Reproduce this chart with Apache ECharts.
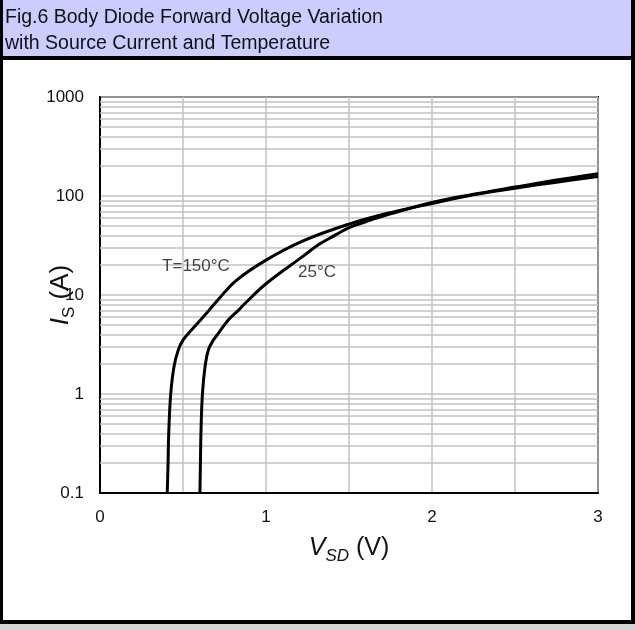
<!DOCTYPE html>
<html style="height: 100%">
   <head>
       <meta charset="utf-8">
   </head>
   <body style="height: 100%; margin: 0">
       <div id="container" style="width: 635px; height: 630px"></div>
       <script type="text/javascript" src="https://cdn.jsdelivr.net/npm/echarts@6/dist/echarts.min.js"></script>
       <script type="text/javascript">
// Is vs Vsd
var v150 = [0.405, 0.41, 0.414, 0.426, 0.446, 0.472, 0.50, 0.57, 0.64, 0.71, 0.82, 1.0, 1.22, 1.5, 1.75, 2.0, 2.25, 2.5, 2.75, 3.0];
var i150 = [0.1, 0.2, 0.4, 1.0, 1.9, 2.8, 3.5, 4.8, 6.5, 8.9, 14, 22.5, 35, 52, 68, 84, 103, 120, 138, 157];
var v25 = [0.602, 0.605, 0.608, 0.617, 0.633, 0.653, 0.683, 0.713, 0.773, 0.833, 0.873, 1.0, 1.22, 1.32, 1.42, 1.5, 1.6, 1.75, 2.0, 2.25, 2.5, 2.75, 3.0];
var i25 = [0.1, 0.2, 0.4, 1.0, 1.9, 2.8, 3.5, 4.1, 5.6, 7.0, 8.2, 13, 24.4, 32.5, 40.5, 48, 55, 66, 86, 104, 123, 145, 168];
var curveLabels = [[0.578, 19.6, 'T=150°C'], [1.307, 16.9, '25°C']];
var minorY = [0.2, 0.3, 0.4, 0.5, 0.6, 0.7, 0.8, 0.9, 2, 3, 4, 5, 6, 7, 8, 9,
    20, 30, 40, 50, 60, 70, 80, 90, 200, 300, 400, 500, 600, 700, 800, 900];

function pairs(xs, ys) {
    return xs.map(function (x, k) { return [x, ys[k]]; });
}

var font = 'Liberation Sans';
var gridGray = '#c2c2c2';
var dom = document.getElementById("container");
var myChart = echarts.init(dom);

var option = {
    backgroundColor: '#fff',
    animation: false,
    textStyle: { fontFamily: font },
    graphic: [
        { type: 'rect', shape: { x: 0, y: 0, width: 635, height: 57 }, style: { fill: '#ccccfe' }, z: -10 },
        { type: 'rect', shape: { x: 0, y: 56, width: 635, height: 4 }, style: { fill: '#000' } },
        { type: 'rect', shape: { x: 0, y: 0, width: 3, height: 624 }, style: { fill: '#000' } },
        { type: 'rect', shape: { x: 631, y: 0, width: 4, height: 624 }, style: { fill: '#000' } },
        { type: 'rect', shape: { x: 0, y: 620, width: 635, height: 4 }, style: { fill: '#000' } },
        { type: 'rect', shape: { x: 0, y: 624, width: 635, height: 6 }, style: { fill: '#d4d4d4' } }
    ],
    title: {
        text: 'Fig.6 Body Diode Forward Voltage Variation\nwith Source Current and Temperature',
        left: 5,
        top: 5,
        padding: 0,
        textStyle: { fontFamily: font, fontSize: 19.5, fontWeight: 'normal', color: '#111', lineHeight: 26 }
    },
    grid: {
        left: 100, top: 97, right: 37, bottom: 137,
        show: true, borderColor: '#000', borderWidth: 2, backgroundColor: 'transparent'
    },
    xAxis: {
        type: 'value', min: 0, max: 3, interval: 0.5,
        name: '{v|V}{s|SD}{n| (V)}',
        nameLocation: 'middle', nameGap: 38, nameMoveOverlap: false,
        nameTextStyle: {
            rich: {
                v: { fontSize: 25, fontStyle: 'italic', fontFamily: font, color: '#111', lineHeight: 34, verticalAlign: 'middle' },
                s: { fontSize: 17, fontStyle: 'italic', fontFamily: font, color: '#111', lineHeight: 34, verticalAlign: 'bottom' },
                n: { fontSize: 25, fontFamily: font, color: '#111', lineHeight: 34, verticalAlign: 'middle' }
            }
        },
        axisLine: { lineStyle: { color: '#000', width: 2 } },
        axisTick: { show: false },
        axisLabel: {
            margin: 16, fontSize: 17, color: '#111', fontFamily: font,
            formatter: function (v) { return v % 1 === 0 ? String(v) : ''; }
        },
        splitLine: { lineStyle: { color: gridGray, width: 1.5 } }
    },
    yAxis: {
        type: 'log', logBase: 10, min: 0.1, max: 1000,
        name: '{i|I}{s|S}{n| (A)}',
        nameLocation: 'middle', nameGap: 22, nameRotate: 90, nameMoveOverlap: false,
        nameTextStyle: {
            rich: {
                i: { fontSize: 26, fontStyle: 'italic', fontFamily: font, color: '#111', lineHeight: 34, verticalAlign: 'middle' },
                s: { fontSize: 17, fontFamily: font, color: '#111', lineHeight: 34, verticalAlign: 'bottom' },
                n: { fontSize: 26, fontFamily: font, color: '#111', lineHeight: 34, verticalAlign: 'middle' }
            }
        },
        axisLine: { lineStyle: { color: '#000', width: 2 } },
        axisTick: { show: false },
        axisLabel: {
            margin: 16, fontSize: 17, color: '#111', fontFamily: font,
            formatter: function (v) { return v < 1 ? '0.1' : String(Math.round(v)); }
        },
        splitLine: { lineStyle: { color: gridGray, width: 1.5 } }
    },
    series: [
        {
            type: 'line', data: [], z: 1, silent: true,
            markLine: {
                silent: true, symbol: 'none', label: { show: false },
                lineStyle: { color: gridGray, width: 1.5, type: 'solid' },
                data: minorY.map(function (v) { return { yAxis: v }; })
            }
        },
        {
            name: '150', type: 'line', data: pairs(v150, i150), showSymbol: false,
            smooth: 0.4, zlevel: 1,
            lineStyle: { color: '#000', width: 3 }
        },
        {
            name: '25', type: 'line', data: pairs(v25, i25), showSymbol: false,
            smooth: 0.4, zlevel: 1,
            lineStyle: { color: '#000', width: 3 }
        },
        {
            type: 'scatter', data: curveLabels, symbolSize: 0, zlevel: 1,
            label: {
                show: true, position: 'inside', fontSize: 17, color: '#111', fontFamily: font,
                formatter: function (p) { return p.data[2]; }
            }
        }
    ]
};

myChart.setOption(option);
       </script>
   </body>
</html>
